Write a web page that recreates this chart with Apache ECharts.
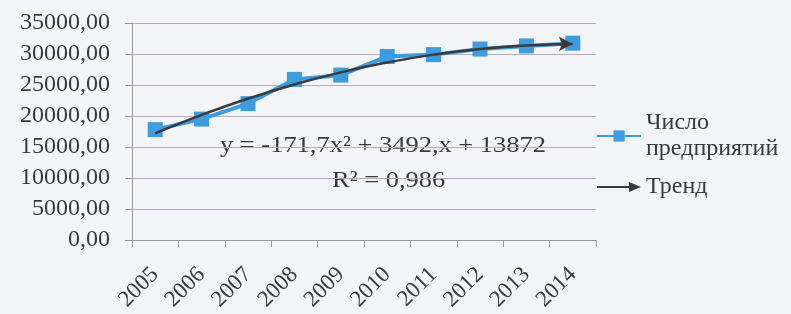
<!DOCTYPE html>
<html>
<head>
<meta charset="utf-8">
<script src="https://cdn.jsdelivr.net/npm/echarts@6/dist/echarts.min.js"></script>
<style>
  html, body { margin: 0; padding: 0; background: #f3f5f8; }
  #chart { width: 791px; height: 314px; }
</style>
</head>
<body>
<div id="chart"></div>
<script>
var years = ['2005', '2006', '2007', '2008', '2009', '2010', '2011', '2012', '2013', '2014'];
var enterprises = [17800, 19500, 22000, 25900, 26600, 29600, 29900, 30800, 31300, 31750];
// trend
var trend = [17190, 20170, 22800, 25090, 27040, 28640, 29900, 30820, 31390, 31620];
var seriesNames = ['Число\nпредприятий', 'Тренд'];

var font = 'Liberation Serif';
var chart = echarts.init(document.getElementById('chart'));

var trendData = trend.map(function(v, i) {
	if (i === trend.length - 1) {
		return { value: v, symbol: 'arrow', symbolSize: [11, 14], symbolRotate: -90 };
	}
	return v;
});

chart.setOption({
	backgroundColor: '#f3f5f8',
	animation: false,
	grid: {
		left: 132,
		right: 195,
		top: 23,
		bottom: 74
	},
	legend: {
		orient: 'vertical',
		left: 591,
		top: 105,
		itemWidth: 44,
		itemHeight: 14,
		itemGap: 12,
		textStyle: {
			fontFamily: font,
			fontSize: 24,
			color: '#3a3a3a',
			lineHeight: 26
		},
		data: [
			{ name: seriesNames[0] },
			{ name: seriesNames[1], icon: 'path://M0,4 L32,4 L32,0 L44,5 L32,10 L32,6 L0,6 Z' }
		]
	},
	xAxis: {
		type: 'category',
		data: years,
		boundaryGap: true,
		axisLine: { lineStyle: { color: '#999', width: 1 } },
		axisTick: { show: true, length: 7, lineStyle: { color: '#999' } },
		axisLabel: {
			rotate: 45,
			fontFamily: font,
			fontSize: 23,
			color: '#3a3a3a',
			margin: 31
		}
	},
	yAxis: {
		type: 'value',
		min: 0,
		max: 35000,
		interval: 5000,
		axisLine: { show: true, lineStyle: { color: '#999', width: 1 } },
		axisTick: { show: true, length: 7, lineStyle: { color: '#999' } },
		splitLine: { lineStyle: { color: '#b8a9c2', width: 1 } },
		axisLabel: {
			fontFamily: font,
			fontSize: 24,
			color: '#3a3a3a',
			margin: 22,
			formatter: function(v) { return v.toFixed(2).replace('.', ','); }
		}
	},
	graphic: [{
		type: 'text',
		x: 220,
		y: 134,
		scaleX: 1.15,
		style: {
			text: 'y = -171,7x² + 3492,x + 13872',
			font: '23px "Liberation Serif"',
			fill: '#3a3a3a'
		}
	}, {
		type: 'text',
		x: 332,
		y: 169,
		scaleX: 1.15,
		style: {
			text: 'R² = 0,986',
			font: '23px "Liberation Serif"',
			fill: '#3a3a3a'
		}
	}],
	series: [{
		name: seriesNames[0],
		type: 'line',
		data: enterprises,
		symbol: 'rect',
		symbolSize: 15,
		itemStyle: { color: '#3d9be0' },
		lineStyle: { color: '#3d9be0', width: 4 },
		z: 2
	}, {
		name: seriesNames[1],
		type: 'line',
		data: trendData,
		smooth: true,
		symbol: 'none',
		showSymbol: true,
		itemStyle: { color: '#3a3a3a' },
		lineStyle: { color: '#3a3a3a', width: 2.5 },
		z: 3
	}]
});
</script>
</body>
</html>
